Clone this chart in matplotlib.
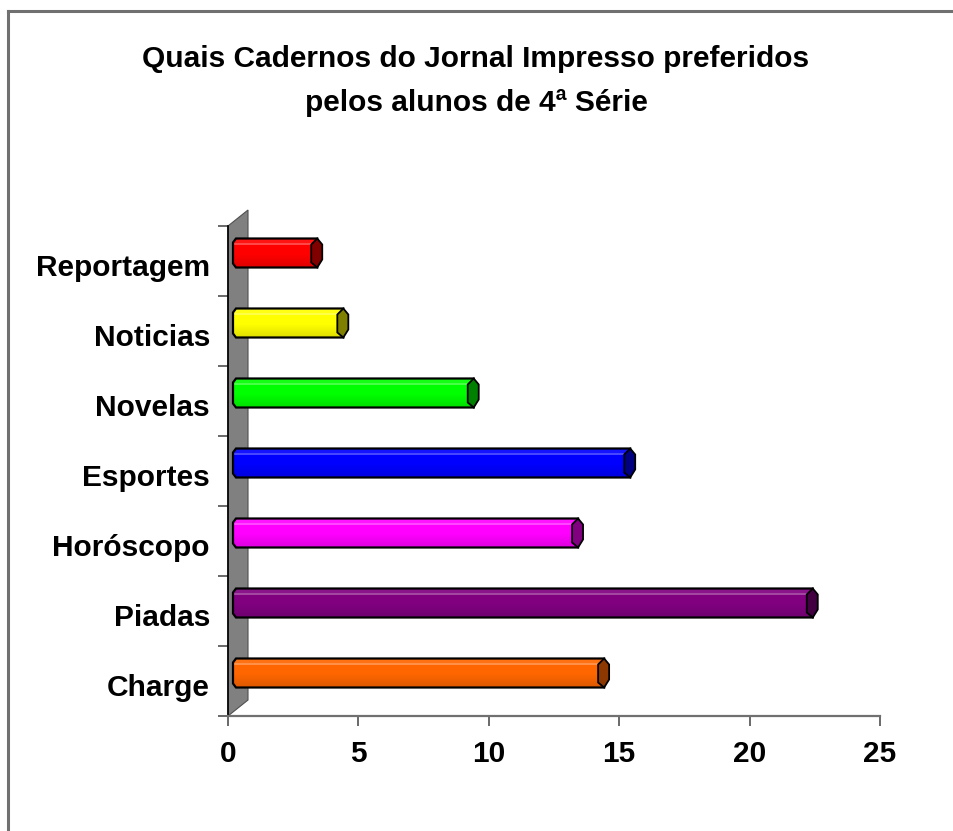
import numpy as np
import matplotlib
matplotlib.use("Agg")
import matplotlib.pyplot as plt
import matplotlib.transforms as mtransforms
from matplotlib.patches import Polygon
from matplotlib.lines import Line2D
from matplotlib.colors import to_rgb

# --- data ---
categories = ["Charge", "Piadas", "Horóscopo", "Esportes", "Novelas", "Noticias", "Reportagem"]
values = [14, 22, 13, 15, 9, 4, 3]
bar_colors = ["#FF6600", "#800080", "#FF00FF", "#0000FF", "#00FF00", "#FFFF00", "#FF0000"]
cap_colors = ["#8C3800", "#420042", "#800080", "#000080", "#008000", "#808000", "#800000"]
xticks = [0, 5, 10, 15, 20, 25]
title_lines = ["Quais Cadernos do Jornal Impresso preferidos", "pelos alunos de 4ª Série"]

plt.rcParams["font.family"] = ["Liberation Sans", "DejaVu Sans"]
FS = 21.5

W, H = 954, 831
fig = plt.figure(figsize=(W / 100, H / 100), dpi=100)

# outer chart border (only left/top visible in the original crop)
fig.add_artist(Line2D([8.5 / W, 8.5 / W], [0, 1 - 10.5 / H], color="#707070", lw=2.2))
fig.add_artist(Line2D([8.5 / W, 1], [1 - 10.5 / H, 1 - 10.5 / H], color="#707070", lw=2.2))

# title
fig.text(476 / W, 1 - 59 / H, title_lines[0], ha="center", va="center", fontsize=FS, fontweight="bold")
fig.text(476 / W, 1 - 103 / H, title_lines[1], ha="center", va="center", fontsize=FS, fontweight="bold")

# plot area
left, right, top, bottom = 228, 880, 226, 716
ax = fig.add_axes([left / W, (H - bottom) / H, (right - left) / W, (bottom - top) / H])
ax.set_xlim(0, 25)
ax.set_ylim(0, len(categories))
px = 25 / (right - left)          # data units per pixel (x)
py = len(categories) / (bottom - top)  # data units per pixel (y)

# grey back wall (3D effect)
wall = Polygon([(0, 0), (0, len(categories)), (20 * px, len(categories) + 16 * py), (20 * px, 16 * py)],
               closed=True, fc="#808080", ec="#505050", lw=0.8, clip_on=False, zorder=1)
ax.add_patch(wall)


def mix(c, f):
    c = np.array(to_rgb(c))
    if f >= 0:
        return c + (1 - c) * f
    return c * (1 + f)


def gradient(c, n=60):
    rows = []
    for k in range(n):
        s = k / (n - 1)
        if s < 0.18:
            rows.append(mix(c, 0.08))
        elif s < 0.25:
            rows.append(mix(c, 0.28))
        elif s < 0.55:
            rows.append(mix(c, 0.0))
        else:
            rows.append(mix(c, -0.13 * (s - 0.55) / 0.45))
    return np.array(rows).reshape(n, 1, 3)


# cylinder-like 3D bars
for i, (v, col, cap) in enumerate(zip(values, bar_colors, cap_colors)):
    yc = i + 0.5 + 8 * py
    yt = yc + 14.5 * py
    yb = yc - 14.5 * py
    x0 = 5 * px
    e = v + 11 * px
    body = Polygon([(x0 + 3 * px, yt), (e, yt), (e, yb), (x0 + 3 * px, yb),
                    (x0, yb + 4 * py), (x0, yt - 4 * py)],
                   closed=True, fc="none", ec="black", lw=1.6, zorder=4, clip_on=False)
    ax.add_patch(body)
    im = ax.imshow(gradient(col), extent=[x0, e, yb, yt], aspect="auto",
                   interpolation="nearest", zorder=3)
    im.set_clip_path(body)
    capp = Polygon([(e - 6 * px, yt - 6 * py), (e, yt), (e + 5 * px, yt - 6 * py),
                    (e + 5 * px, yb + 8 * py), (e, yb), (e - 6 * px, yb + 5 * py)],
                   closed=True, fc=cap, ec="black", lw=1.3, zorder=5, clip_on=False)
    ax.add_patch(capp)

ax.set_xlim(0, 25)
ax.set_ylim(0, len(categories))

# axes styling
for s in ["top", "right"]:
    ax.spines[s].set_visible(False)
ax.spines["left"].set_color("black")
ax.spines["left"].set_linewidth(1.2)
ax.spines["left"].set_zorder(2)
ax.spines["bottom"].set_color("#707070")
ax.spines["bottom"].set_linewidth(1.6)

ax.set_xticks(xticks)
ax.set_xticklabels([str(t) for t in xticks], fontsize=FS, fontweight="bold")
ax.tick_params(axis="x", length=7.5, width=1.2, color="#505050", pad=10)

ax.set_yticks(range(len(categories) + 1))
ax.set_yticklabels([])
ax.tick_params(axis="y", which="major", length=7.5, width=1.2, color="#505050")
ax.set_yticks(np.arange(len(categories)) + 0.5, minor=True)
ax.set_yticklabels(categories, minor=True, fontsize=FS, fontweight="bold")
ax.tick_params(axis="y", which="minor", length=0, pad=13)
# nudge category labels a few pixels down
shift = mtransforms.ScaledTranslation(0, -4 / 100, fig.dpi_scale_trans)
for lab in ax.get_yticklabels(minor=True):
    lab.set_transform(lab.get_transform() + shift)
ax.patch.set_alpha(0)

fig.savefig("out.png", dpi=100)
